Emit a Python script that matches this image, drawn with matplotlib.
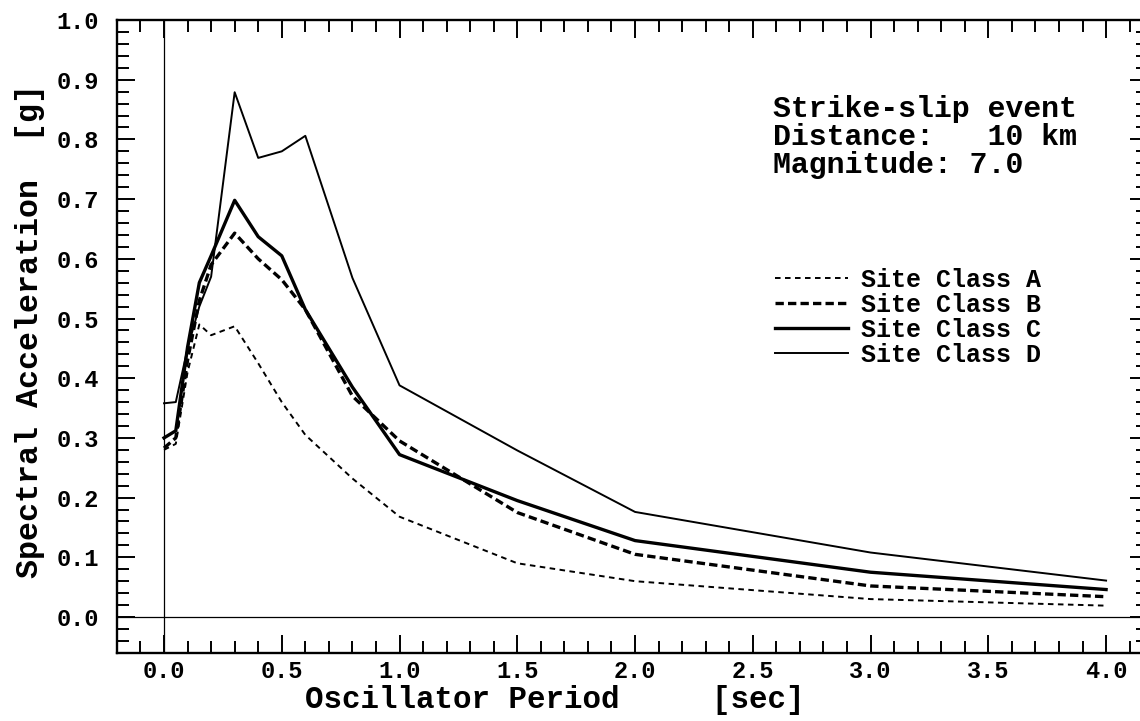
import matplotlib
matplotlib.use("Agg")
import matplotlib.pyplot as plt
from matplotlib.ticker import MultipleLocator, FormatStrFormatter

# ---- data ----
periods = [0.0, 0.05, 0.1, 0.15, 0.2, 0.3, 0.4, 0.5, 0.6, 0.8, 1.0, 1.5, 2.0, 3.0, 4.0]
site_a = [0.28, 0.29, 0.41, 0.49, 0.472, 0.487, 0.425, 0.36, 0.305, 0.232, 0.168, 0.09, 0.06, 0.03, 0.019]
site_b = [0.283, 0.30, 0.43, 0.53, 0.59, 0.643, 0.60, 0.565, 0.515, 0.37, 0.295, 0.175, 0.105, 0.052, 0.034]
site_c = [0.30, 0.312, 0.452, 0.56, 0.605, 0.698, 0.637, 0.605, 0.515, 0.385, 0.272, 0.195, 0.128, 0.075, 0.046]
site_d = [0.358, 0.36, 0.45, 0.52, 0.57, 0.879, 0.769, 0.78, 0.806, 0.568, 0.388, 0.279, 0.176, 0.108, 0.061]
labels = ["Site Class A", "Site Class B", "Site Class C", "Site Class D"]
annotation = ["Strike-slip event", "Distance:   10 km", "Magnitude: 7.0"]

plt.rcParams['lines.scale_dashes'] = False
FONT = "Liberation Mono"
WEIGHT = "bold"
plt.rcParams['font.family'] = [FONT, 'DejaVu Sans']
plt.rcParams['font.weight'] = WEIGHT

W, H = 1140, 721
fig = plt.figure(figsize=(W / 100, H / 100), dpi=100)
fig.patch.set_facecolor("white")

# axes placement in pixels: left 117, right 1148 (beyond edge), top 20, bottom 653
ax = fig.add_axes([117 / W, (H - 653) / H, (1148 - 117) / W, (653 - 20) / H])
ax.set_xlim(-0.1996, 4.178)
ax.set_ylim(-0.0603, 1.0)

styles = [
    dict(color="black", lw=1.4, linestyle=(0, (4.0, 3.2)), dash_capstyle="butt"),
    dict(color="black", lw=2.4, linestyle=(0, (6.0, 3.0)), dash_capstyle="butt"),
    dict(color="black", lw=2.4, linestyle="-"),
    dict(color="black", lw=1.4, linestyle="-"),
]
series = [site_a, site_b, site_c, site_d]
handles = []
for vals, st, lab in zip(series, styles, labels):
    ln, = ax.plot(periods, vals, label=lab, **st)
    handles.append(ln)

# zero reference lines
ax.axhline(0.0, color="black", lw=0.9)
ax.axvline(0.0, color="black", lw=0.9)

# ticks
ax.xaxis.set_major_locator(MultipleLocator(0.5))
ax.xaxis.set_minor_locator(MultipleLocator(0.1))
ax.yaxis.set_major_locator(MultipleLocator(0.1))
ax.yaxis.set_minor_locator(MultipleLocator(0.02))
ax.xaxis.set_major_formatter(FormatStrFormatter("%.1f"))
ax.yaxis.set_major_formatter(FormatStrFormatter("%.1f"))
ax.tick_params(which="both", direction="in", top=True, right=True, colors="black", width=1.4)
ax.tick_params(which="major", length=13, labelsize=17)
ax.tick_params(which="minor", length=8.5)
ax.tick_params(axis="y", which="major", pad=13)
ax.tick_params(axis="x", which="major", pad=5)
for s in ax.spines.values():
    s.set_linewidth(1.7)
    s.set_color("black")

# axis labels
fig.text(555 / W, 1 - 700 / H, "Oscillator Period     [sec]", fontsize=22.2,
         ha="center", va="center", family=FONT, weight=WEIGHT)
fig.text(30 / W, 1 - 331 / H, "Spectral Acceleration  [g]", fontsize=22.8,
         ha="center", va="center", rotation=90, family=FONT, weight=WEIGHT)

# annotation
for i, line in enumerate(annotation):
    fig.text(773 / W, 1 - (117 + 28 * i) / H, line, fontsize=21.5,
             ha="left", va="baseline", family=FONT, weight=WEIGHT)

# legend
leg = ax.legend(handles=handles, labels=labels, loc="center left",
                bbox_to_anchor=(775 / W, 1 - 317.5 / H), bbox_transform=fig.transFigure,
                frameon=False, prop={"family": FONT, "size": 18, "weight": WEIGHT},
                handlelength=2.9, handletextpad=0.55, labelspacing=0.04,
                borderpad=0, borderaxespad=0)

fig.savefig("out.png", dpi=100, facecolor="white")
